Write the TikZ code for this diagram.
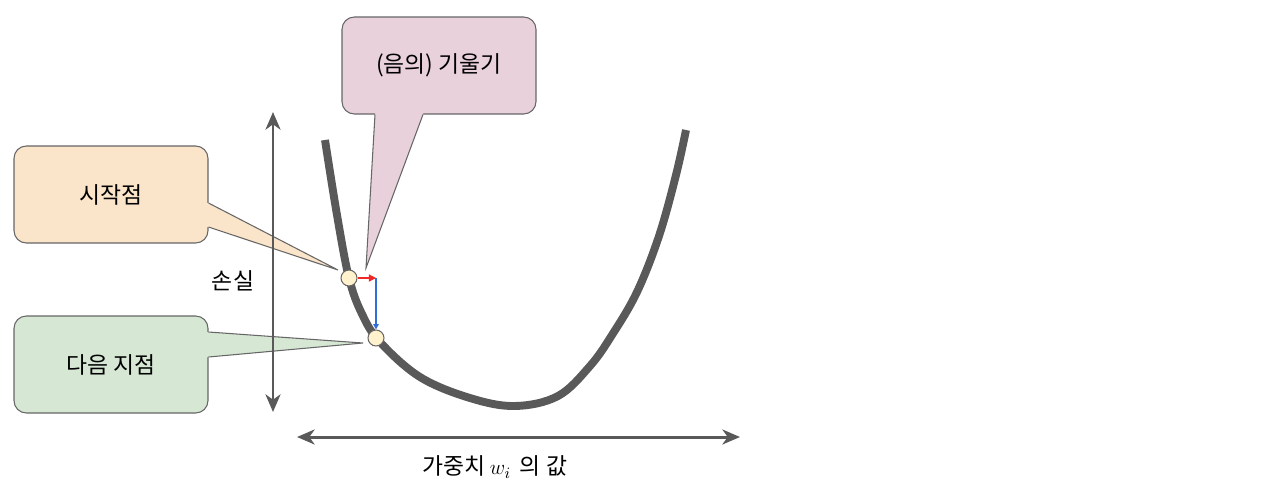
\documentclass[tikz,border=0pt]{standalone}
\usepackage{fontspec}
\setmainfont{Noto Sans CJK KR}
\usetikzlibrary{arrows.meta,positioning,calc}
\definecolor{curveInk}{RGB}{89,89,89}
\definecolor{boxLine}{RGB}{102,102,102}
\definecolor{startFill}{RGB}{250,228,202}
\definecolor{nextFill}{RGB}{214,232,212}
\definecolor{slopeFill}{RGB}{233,209,220}
\definecolor{pointFill}{RGB}{255,242,204}
\definecolor{stepRed}{RGB}{240,40,40}
\definecolor{stepBlue}{RGB}{45,110,215}
\tikzset{
  callbox/.style={draw=boxLine, line width=0.6pt, rounded corners=7pt, minimum width=3.88cm, minimum height=1.94cm, align=center, font=\fontsize{13}{15}\selectfont},
  startbox/.style={callbox, fill=startFill},
  nextbox/.style={callbox, fill=nextFill},
  slopebox/.style={callbox, fill=slopeFill},
  tailline/.style={draw=boxLine, line width=0.6pt},
  label/.style={font=\fontsize{13}{15}\selectfont, inner sep=1pt},
  axis/.style={{Stealth[length=10pt,width=8.5pt,inset=3pt]}-{Stealth[length=10pt,width=8.5pt,inset=3pt]}, line width=1.7pt, draw=curveInk},
  losscurve/.style={line width=4.5pt, draw=curveInk},
  point/.style={circle, draw=boxLine, fill=pointFill, line width=0.6pt, minimum size=0.32cm, inner sep=0pt},
  redstep/.style={-{Triangle[length=4pt,width=4pt]}, draw=stepRed, line width=0.7pt},
  bluestep/.style={-{Triangle[length=3pt,width=3pt]}, draw=stepBlue, line width=0.7pt}
}
\begin{document}
\begin{tikzpicture}[x=0.02cm, y=-0.02cm]
  \useasboundingbox (0,0) rectangle (1261,498);
  % callout boxes
  \node[slopebox] (slope) at (439,65.5) {(음의) 기울기};
  \node[startbox] (start) at (111,194.5) {시작점};
  \node[nextbox] (next) at (111,364.5) {다음 지점};
  % callout tails
  \coordinate (slopeTip) at (366,268);
  \coordinate (startTip) at (338,270);
  \coordinate (nextTip) at (363,343);
  \fill[slopeFill] ($(slope.south)+(-64,0)$) -- (slopeTip) -- ($(slope.south)+(-16,0)$) -- ($(slope.south)+(-16,-3)$) -- ($(slope.south)+(-64,-3)$) -- cycle;
  \draw[tailline] ($(slope.south)+(-64,0)$) -- (slopeTip) -- ($(slope.south)+(-16,0)$);
  \fill[startFill] ($(start.east)+(0,8.5)$) -- (startTip) -- ($(start.east)+(0,32.5)$) -- ($(start.east)+(-3,32.5)$) -- ($(start.east)+(-3,8.5)$) -- cycle;
  \draw[tailline] ($(start.east)+(0,8.5)$) -- (startTip) -- ($(start.east)+(0,32.5)$);
  \fill[nextFill] ($(next.east)+(0,-32.5)$) -- (nextTip) -- ($(next.east)+(0,-7.5)$) -- ($(next.east)+(-3,-7.5)$) -- ($(next.east)+(-3,-32.5)$) -- cycle;
  \draw[tailline] ($(next.east)+(0,-32.5)$) -- (nextTip) -- ($(next.east)+(0,-7.5)$);
  % axes
  \coordinate (lossTop) at (273,112);
  \coordinate (lossBottom) at (273,412);
  \coordinate (wLeft) at (297,437);
  \coordinate (wRight) at (740,437);
  \draw[axis] (lossBottom) -- (lossTop);
  \draw[axis] (wLeft) -- (wRight);
  \node[label] (loss) at (233,281) {손실};
  \node[label] (weight) at (495,467) {가중치\,$w_i$\, 의 값};
  % loss curve
  \draw[losscurve] plot[smooth, tension=0.6] coordinates {(325,140) (337,215) (349,278) (362,314) (380,342) (420,377) (470,398) (515,406) (558,396) (590,366) (612,335) (637,292) (659,236) (676,175) (686,130)};
  % points and steps
  \node[point] (p0) at (349,278) {};
  \node[point] (p1) at (376,338) {};
  \coordinate (corner) at (p0 -| p1.north);
  \draw[redstep] (p0.east) -- (corner);
  \draw[bluestep] (corner) -- (p1.north);
\end{tikzpicture}
\end{document}
